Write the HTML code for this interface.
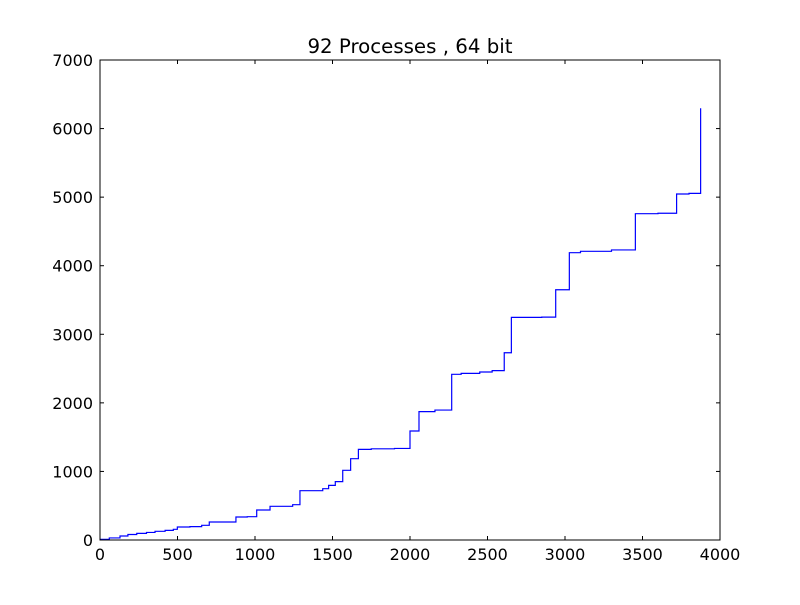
<!DOCTYPE html>
<html><head><meta charset="utf-8"><style>
body{margin:0;background:#fff;}
svg text{font-family:"DejaVu Sans","Liberation Sans",sans-serif;fill:#000;}
</style></head><body>
<svg id="chart" width="800" height="600" viewBox="0 0 800 600" xmlns="http://www.w3.org/2000/svg">
<rect width="800" height="600" fill="#fff"/>
<text x="410" y="53" font-size="19.8" text-anchor="middle">92 Processes , 64 bit</text>
<g id="ticks"></g>
<path id="series" fill="none" stroke="#0000ff" stroke-width="1.2"/>
<rect x="100" y="60" width="620" height="480" fill="none" stroke="#000" stroke-width="1"/>
</svg>
<script>
const xSteps=[0,60,129,180,237,300,355,420,473,499,580,656,705,877,950,1011,1097,1243,1290,1437,1475,1518,1566,1617,1667,1750,1900,2000,2058,2161,2269,2330,2450,2530,2608,2654,2850,2940,3028,3100,3300,3454,3600,3720,3800,3875];
const yValues=[10,30,58,80,97,110,127,140,156,190,195,214,262,335,340,437,491,515,719,748,797,851,1016,1186,1322,1330,1335,1590,1872,1895,2416,2430,2450,2470,2731,3247,3250,3650,4190,4210,4230,4759,4765,5046,5055,6296];
const xTicks=[0,500,1000,1500,2000,2500,3000,3500,4000];
const yTicks=[0,1000,2000,3000,4000,5000,6000,7000];
const X=v=>100+v*620/4000, Y=v=>540-v*480/7000;
const ns="http://www.w3.org/2000/svg", g=document.getElementById('ticks');
function line(x1,y1,x2,y2){const l=document.createElementNS(ns,'line');l.setAttribute('x1',x1);l.setAttribute('y1',y1);l.setAttribute('x2',x2);l.setAttribute('y2',y2);l.setAttribute('stroke','#000');


g.appendChild(l);}
function txt(x,y,s,a){const t=document.createElementNS(ns,'text');t.setAttribute('x',x);t.setAttribute('y',y);t.setAttribute('font-size','16');t.setAttribute('text-anchor',a);t.textContent=s;


g.appendChild(t);}
xTicks.forEach(v=>{const x=X(v);line(x,540,x,536);line(x,60,x,64);txt(x,560,String(v),'middle');});
yTicks.forEach(v=>{const y=Y(v);line(100,y,104,y);line(720,y,716,y);txt(93,y+6,String(v),'end');});
let d='M'+X(xSteps[0])+','+Y(yValues[0]);
for(let i=1;i<xSteps.length;i++){d+=' H'+X(xSteps[i])+' V'+Y(yValues[i]);}
document.getElementById('series').setAttribute('d',d);
</script>
</body></html>
